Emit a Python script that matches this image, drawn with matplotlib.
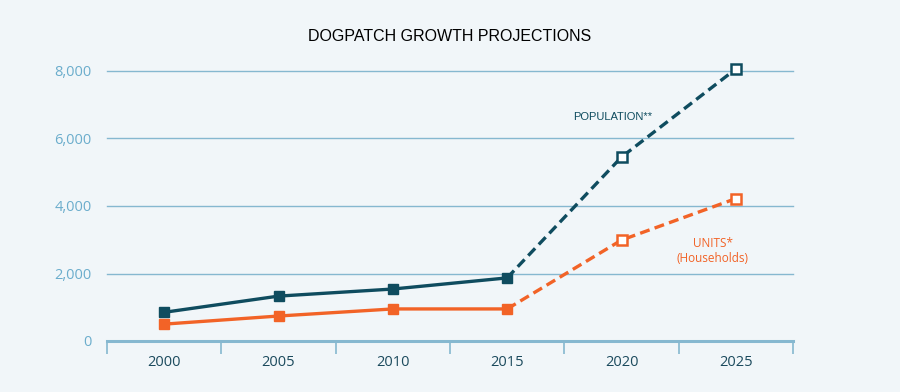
import numpy as np
import matplotlib.pyplot as plt

years = ["2000", "2005", "2010", "2015", "2020", "2025"]
population = [850, 1330, 1540, 1870, 5450, 8060]
units = [500, 740, 950, 950, 2990, 4220]
n_actual = 4  # 2000-2015 measured, after that projections

BG = "#f1f6f9"
TEAL = "#0f4c5f"
ORANGE = "#f26327"
GRID = "#86b8d0"
YLAB = "#6badcc"
FONT = "Open Sans"

fig = plt.figure(figsize=(9, 3.92), dpi=100, facecolor=BG)
ax = fig.add_axes([107/900, 51/392, 686/900, 270/392], facecolor=BG)

x = np.arange(len(years))

def draw(vals, col):
    k = n_actual
    ax.plot(x[:k], vals[:k], color=col, lw=2.4, marker="s", ms=7,
            mfc=col, mec=col, clip_on=False, zorder=3)
    ax.plot(x[k-1:], vals[k-1:], color=col, lw=2.4, ls=(0, (3, 1.6)),
            clip_on=False, zorder=3)
    ax.plot(x[k:], vals[k:], ls="none", marker="s", ms=7, mfc="white",
            mec=col, mew=1.8, clip_on=False, zorder=4)

draw(population, TEAL)
draw(units, ORANGE)

ax.set_xlim(-0.5, len(years) - 0.5)
ax.set_ylim(0, 8000)
ax.set_yticks([0, 2000, 4000, 6000, 8000])
ax.set_yticklabels(["0", "2,000", "4,000", "6,000", "8,000"])
ax.yaxis.grid(True, color=GRID, lw=1, clip_on=False)
ax.set_axisbelow(True)
ax.tick_params(axis="y", length=0, pad=11, labelcolor=YLAB, labelsize=10.5)
for lb in ax.get_yticklabels():
    lb.set_family(FONT)

# x ticks at band edges, labels centred
ax.set_xticks(np.arange(-0.5, len(years)), minor=False)
ax.set_xticklabels([])
ax.set_xticks(x, minor=True)
ax.set_xticklabels(years, minor=True, family=FONT, fontsize=10.5, color="#1b4a5d")
ax.tick_params(axis="x", which="major", length=9, width=1.2, color=GRID, direction="out")
ax.tick_params(axis="x", which="minor", length=0, pad=10)

for s in ["top", "right", "left"]:
    ax.spines[s].set_visible(False)
ax.spines["bottom"].set_color(GRID)
ax.spines["bottom"].set_linewidth(2.2)

fig.text(0.5, 0.908, "DOGPATCH GROWTH PROJECTIONS", ha="center", va="center",
         fontsize=11.5, family="Liberation Sans", color="black")
ax.text(3.92, 6650, "POPULATION**", color=TEAL, fontsize=8, ha="center",
        va="center", family="Liberation Sans")
ax.text(4.8, 2900, "UNITS*", color=ORANGE, fontsize=8.5, ha="center",
        va="center", family=FONT)
ax.text(4.8, 2450, "(Households)", color=ORANGE, fontsize=8.5, ha="center",
        va="center", family=FONT)

fig.savefig("out.png", dpi=100, facecolor=BG)
